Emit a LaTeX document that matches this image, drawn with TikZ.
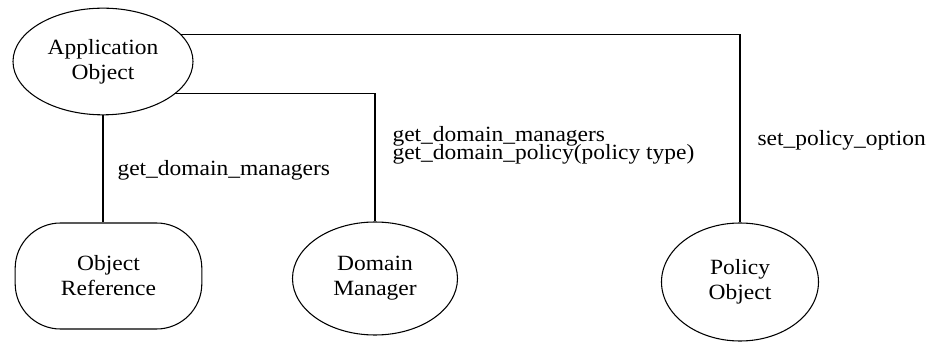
\documentclass[tikz,border=0pt]{standalone}
\usepackage{fontspec}
\setmainfont{Liberation Serif}[FakeStretch=1.08]
\usetikzlibrary{shapes.geometric}
\newcommand\tightlines{\lineskiplimit=-20pt\relax}

\begin{document}
\begin{tikzpicture}[x=.75pt,y=-.75pt,line width=.8pt,
  every node/.style={font=\fontsize{16.3}{18.75}\selectfont},
  obj/.style={ellipse,draw,inner sep=0pt,align=center},
  lbl/.style={anchor=base west,inner sep=0pt,align=left,
    font=\fontsize{16.3}{14}\selectfont\tightlines}]
\useasboundingbox (0,0) rectangle (943,342);
% objects
\node[obj,minimum width=135pt,minimum height=80pt] (app) at (103,61.5) {Application\\Object};
\node[draw,rounded corners=34pt,minimum width=140pt,minimum height=79.5pt,align=center] (ref) at (108.5,276) {Object\\Reference};
\node[obj,minimum width=123.75pt,minimum height=84.75pt] (dom) at (375,278.5) {Domain\\Manager};
\node[obj,minimum width=117.75pt,minimum height=88.5pt] (pol) at (740,282) {Policy\\Object};
% links
\draw (app.south) -- (app.south |- ref.north);
\draw (app.-24.4) -| (dom);
\draw (app.19.6) -| (pol);
\node[lbl] (getdm) at (117,176) {get\_domain\_managers};
\node[lbl] (getdp) at (392,160) {get\_domain\_managers\\get\_domain\_policy(policy type)};
\node[lbl] (setpo) at (757,146) {set\_policy\_option};
\end{tikzpicture}
\end{document}
